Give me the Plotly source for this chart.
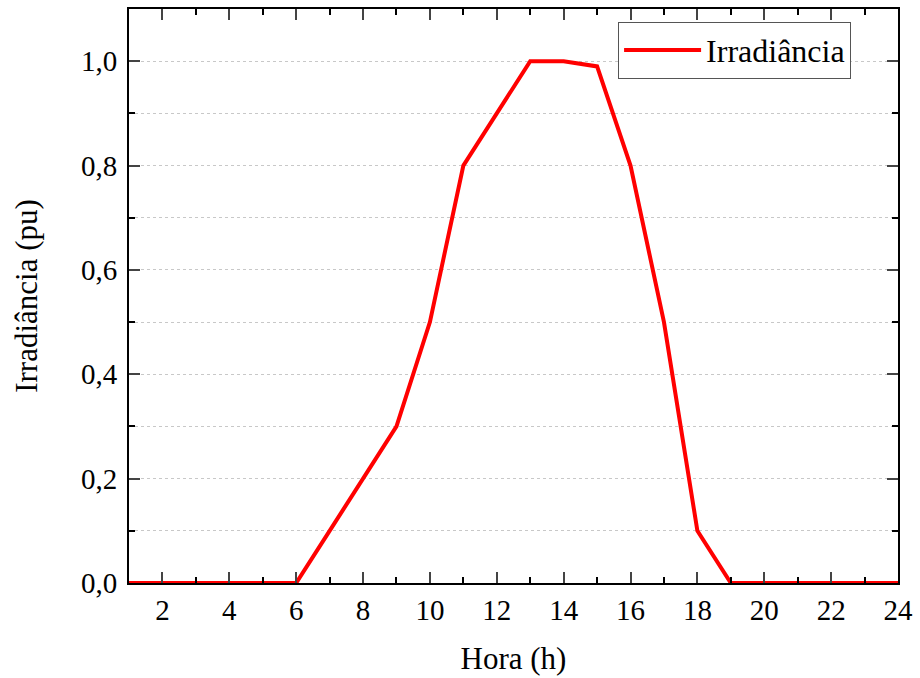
import plotly.graph_objects as go

hours = list(range(1, 25))
irradiance = [0, 0, 0, 0, 0, 0, 0.1, 0.2, 0.3, 0.5, 0.8, 0.9, 1.0, 1.0, 0.99, 0.8, 0.5, 0.1, 0, 0, 0, 0, 0, 0]
x_ticks = list(range(2, 25, 2))
y_ticks = [0, 0.2, 0.4, 0.6, 0.8, 1.0]
y_labels = ["0,0", "0,2", "0,4", "0,6", "0,8", "1,0"]

font = "Liberation Serif"

fig = go.Figure()
fig.add_trace(go.Scatter(x=hours, y=irradiance, mode="lines", name="Irradiância",
                         line=dict(color="#ff0000", width=4)))

fig.update_layout(
    width=920, height=678,
    margin=dict(l=129, r=16, t=7, b=95),
    plot_bgcolor="white", paper_bgcolor="white",
    font=dict(family=font, size=29, color="black"),
    showlegend=True,
    legend=dict(x=0.636, y=0.978, xanchor="left", yanchor="top",
                bordercolor="#555555", borderwidth=1, bgcolor="white",
                itemwidth=77, tracegroupgap=0,
                font=dict(size=32, family=font)),
)
fig.update_xaxes(
    range=[1, 24], tickvals=x_ticks, ticks="inside", ticklen=11, tickwidth=2,
    showline=True, linewidth=2, linecolor="black", mirror="allticks",
    showgrid=False, zeroline=False,
    minor=dict(dtick=1, tick0=1, ticks="inside", ticklen=6, tickwidth=2, tickcolor="black"),
    title=dict(text="Hora (h)", font=dict(size=31, family=font), standoff=23),
    tickfont=dict(size=29, family=font),
)
fig.update_yaxes(
    range=[0, 1.1], tickvals=y_ticks, ticktext=y_labels, ticks="inside", ticklen=11, tickwidth=2,
    showline=True, linewidth=2, linecolor="black", mirror="allticks",
    showgrid=True, gridcolor="#c8c8c8", griddash="dot", gridwidth=1, zeroline=False,
    minor=dict(dtick=0.1, tick0=0, ticks="inside", ticklen=6, tickwidth=2, tickcolor="black",
               showgrid=True, gridcolor="#c8c8c8", griddash="dot", gridwidth=1),
    ticklabelstandoff=4,
    title=dict(text="Irradiância (pu)", font=dict(size=31, family=font), standoff=34),
    tickfont=dict(size=29, family=font),
)

fig.write_html("out.html")
